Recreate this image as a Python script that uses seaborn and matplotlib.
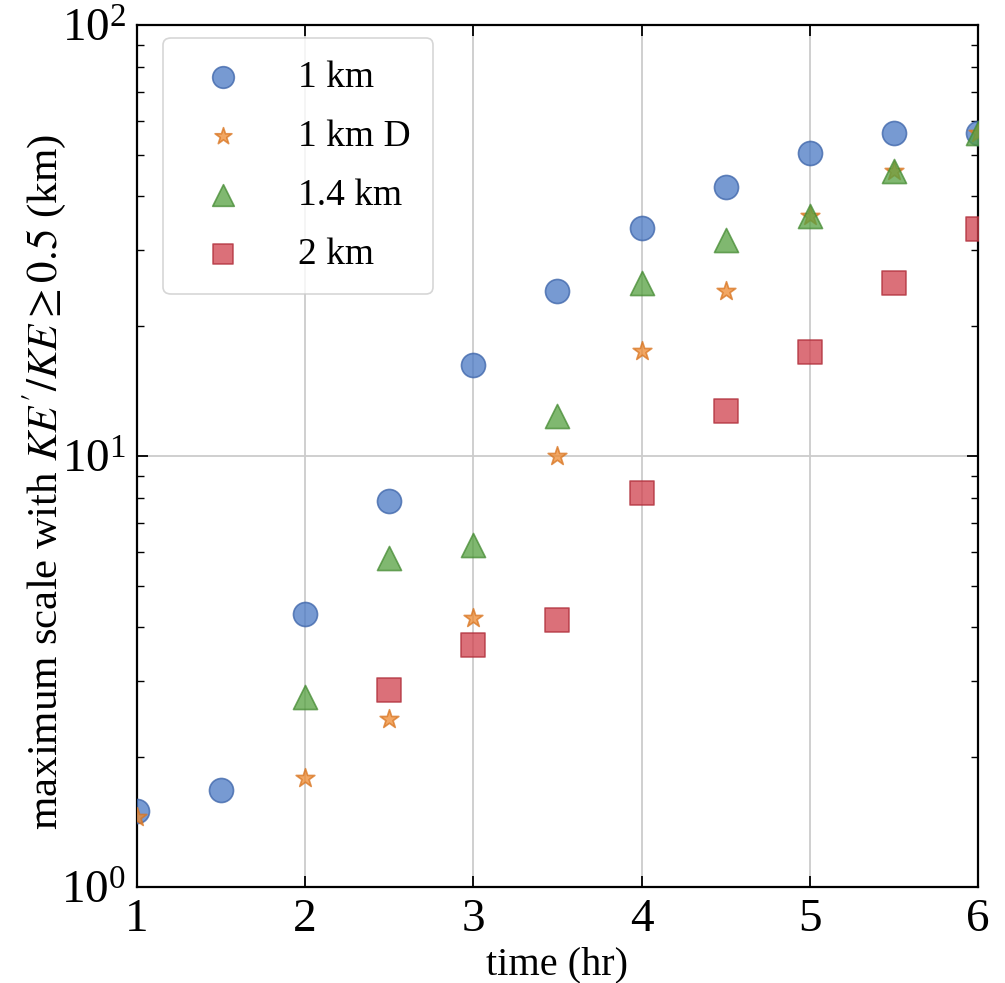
import numpy as np
import pandas as pd
import seaborn as sns
import matplotlib
matplotlib.use("Agg")
import matplotlib.pyplot as plt
from matplotlib.ticker import LogLocator, NullFormatter

# ---- data ----
t_1km = [1.0, 1.5, 2.0, 2.5, 3.0, 3.5, 4.0, 4.5, 5.0, 5.5, 6.0]
v_1km = [1.50, 1.68, 4.30, 7.87, 16.3, 24.1, 33.8, 42.1, 50.5, 56.2, 56.2]

t_1kmD = [1.0, 2.0, 2.5, 3.0, 3.5, 4.0, 4.5, 5.0, 5.5, 6.0]
v_1kmD = [1.45, 1.79, 2.45, 4.21, 10.0, 17.5, 24.1, 36.0, 45.8, 56.2]

t_14km = [2.0, 2.5, 3.0, 3.5, 4.0, 4.5, 5.0, 5.5, 6.0]
v_14km = [2.76, 5.80, 6.22, 12.4, 25.2, 31.7, 36.0, 45.8, 56.2]

t_2km = [2.5, 3.0, 3.5, 4.0, 4.5, 5.0, 5.5, 6.0]
v_2km = [2.87, 3.64, 4.16, 8.21, 12.7, 17.4, 25.2, 33.6]

labels = ["1 km", "1 km D", "1.4 km", "2 km"]
x_ticks = [1, 2, 3, 4, 5, 6]

df = pd.concat([
    pd.DataFrame({"time": t_1km, "scale": v_1km, "run": labels[0]}),
    pd.DataFrame({"time": t_1kmD, "scale": v_1kmD, "run": labels[1]}),
    pd.DataFrame({"time": t_14km, "scale": v_14km, "run": labels[2]}),
    pd.DataFrame({"time": t_2km, "scale": v_2km, "run": labels[3]}),
], ignore_index=True)

# ---- style ----
sns.set_theme(style="white")
plt.rcParams["font.family"] = ["Liberation Serif", "DejaVu Serif"]
plt.rcParams["mathtext.fontset"] = "stix"
plt.rcParams["text.color"] = "black"
plt.rcParams["axes.labelcolor"] = "black"

colors = {"1 km": "#4a78c4", "1 km D": "#ee8a30", "1.4 km": "#55a040", "2 km": "#d0404c"}
edges = {"1 km": "#3a62a8", "1 km D": "#d87420", "1.4 km": "#448a32", "2 km": "#b0303c"}
markers = {"1 km": "o", "1 km D": "*", "1.4 km": "^", "2 km": "s"}
sizes = {"1 km": 300, "1 km D": 200, "1.4 km": 300, "2 km": 280}

fig = plt.figure(figsize=(10.05, 9.83), dpi=100)
ax = fig.add_axes([0.1363, 0.0977, 0.8368, 0.8769])

for lab in labels:
    sub = df[df["run"] == lab]
    sns.scatterplot(data=sub, x="time", y="scale", ax=ax, marker=markers[lab],
                    s=sizes[lab], color=colors[lab], alpha=0.75,
                    edgecolor=edges[lab], linewidth=1.2, label=lab, zorder=3)

ax.set_yscale("log")
ax.set_xlim(1, 6)
ax.set_ylim(1, 100)
ax.set_xticks(x_ticks)
ax.set_xticklabels([str(v) for v in x_ticks])
ax.yaxis.set_major_locator(LogLocator(base=10))
ax.yaxis.set_minor_locator(LogLocator(base=10, subs=np.arange(2, 10)))
ax.yaxis.set_minor_formatter(NullFormatter())

ax.grid(True, which="major", color="#cccccc", linewidth=1.3)
ax.set_axisbelow(True)
for sp in ax.spines.values():
    sp.set_color("black")
    sp.set_linewidth(1.6)

ax.tick_params(which="both", direction="in", top=True, right=True,
               bottom=True, left=True, colors="black")
ax.tick_params(which="major", length=8, width=1.3, labelsize=34, pad=8)
ax.tick_params(which="minor", length=5, width=1.0)

ax.set_xlabel("time (hr)", fontsize=29, labelpad=4, color="black")
ax.set_ylabel(r"maximum scale with $KE'/KE \geq 0.5$ (km)", fontsize=31,
              color="black")
ax.yaxis.set_label_coords(-0.082, 0.47)

leg = ax.legend(loc="upper left", bbox_to_anchor=(0.031, 0.985),
                fontsize=27, frameon=True, labelspacing=0.65,
                borderpad=0.6, handletextpad=1.0, borderaxespad=0.0,
                markerscale=0.9)
for txt in leg.get_texts():
    txt.set_color("black")
leg.get_frame().set_edgecolor("#cccccc")
leg.get_frame().set_linewidth(1.2)

fig.savefig("out.png", dpi=100)
